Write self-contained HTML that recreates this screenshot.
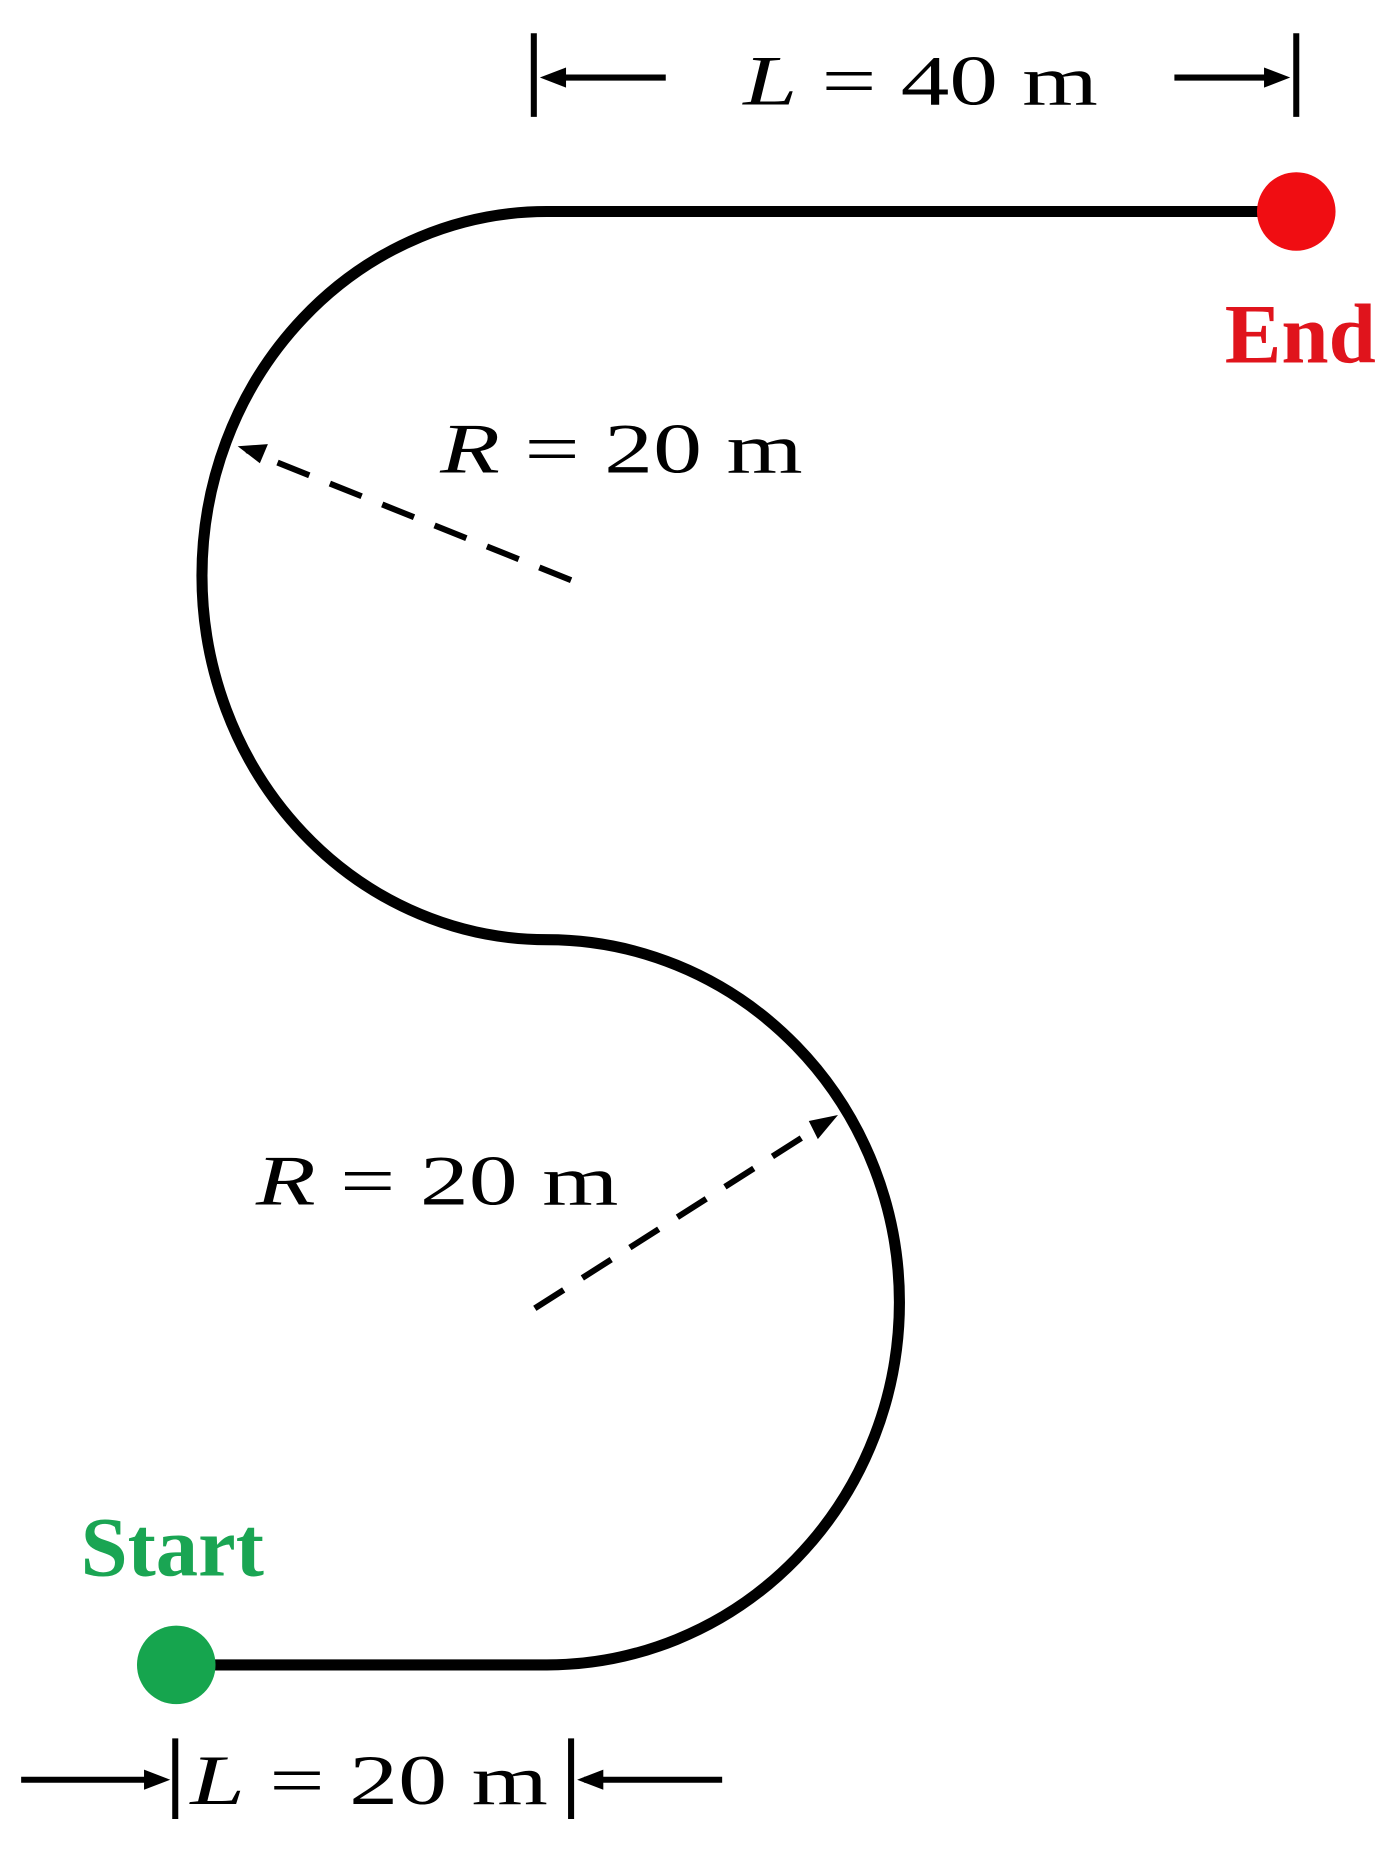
<!DOCTYPE html>
<html><head><style>html,body{margin:0;padding:0;background:#fff}</style></head>
<body>
<svg width="1399" height="1859" viewBox="0 0 1399 1859" xmlns="http://www.w3.org/2000/svg">
<g transform="scale(1.0072)">
<g fill="none" stroke="#000" stroke-width="11">
<path d="M1287,210 L543,210 A342,361 0 0 0 543,933 A350,360 0 0 1 543,1653 L175,1653"/>
</g>
<circle cx="1287" cy="210" r="39" fill="#f00d12"/>
<circle cx="175" cy="1653" r="39" fill="#16a54e"/>
<g stroke="#000" stroke-width="6" stroke-dasharray="34,22" fill="none">
<line x1="567" y1="576" x2="245" y2="447"/>
<line x1="531" y1="1299" x2="822" y2="1113"/>
</g>
<path d="M236,443 L266,441 L258,460 z" fill="#000"/>
<path d="M832,1107 L812,1131 L803,1113 z" fill="#000"/>
<g stroke="#000" stroke-width="6">
<line x1="530" y1="33" x2="530" y2="116"/>
<line x1="1287" y1="33" x2="1287" y2="116"/>
<line x1="661" y1="77" x2="550" y2="77"/>
<line x1="1166" y1="77" x2="1270" y2="77"/>
<line x1="174" y1="1726" x2="174" y2="1806"/>
<line x1="567" y1="1726" x2="567" y2="1806"/>
<line x1="21" y1="1767" x2="160" y2="1767"/>
<line x1="717" y1="1767" x2="580" y2="1767"/>
</g>
<g fill="#000">
<path d="M536,77 L562,67 L562,87 z"/>
<path d="M1281,77 L1255,67 L1255,87 z"/>
<path d="M169,1767 L143,1757 L143,1777 z"/>
<path d="M573,1767 L599,1757 L599,1777 z"/>
</g>
<g font-family="Liberation Serif, serif" font-size="70" fill="#000">
<text x="738" y="104" textLength="352" lengthAdjust="spacingAndGlyphs"><tspan font-style="italic">L</tspan> = 40 m</text>
<text x="437" y="469" textLength="360" lengthAdjust="spacingAndGlyphs"><tspan font-style="italic">R</tspan> = 20 m</text>
<text x="254" y="1196" textLength="360" lengthAdjust="spacingAndGlyphs"><tspan font-style="italic">R</tspan> = 20 m</text>
<text x="189" y="1791" textLength="355" lengthAdjust="spacingAndGlyphs"><tspan font-style="italic">L</tspan> = 20 m</text>
</g>
<text x="1216" y="360" font-family="Liberation Serif, serif" font-weight="bold" font-size="84" fill="#e0141c" textLength="150" lengthAdjust="spacingAndGlyphs">End</text>
<text x="80" y="1564" font-family="Liberation Serif, serif" font-weight="bold" font-size="84" fill="#1aa553" textLength="182" lengthAdjust="spacingAndGlyphs">Start</text>
</g>
</svg>
</body></html>
